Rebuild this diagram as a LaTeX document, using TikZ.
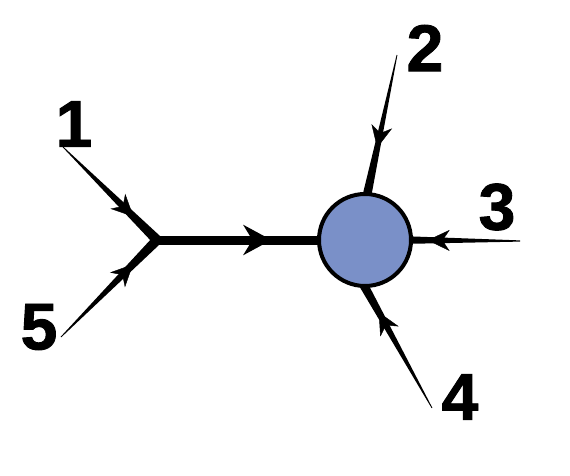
\documentclass[tikz,border=0pt]{standalone}
\usepackage{fontspec}
\setmainfont{Liberation Sans}
\newfontfamily\lblfont[FakeBold=1.4]{Liberation Sans Bold}
\usetikzlibrary{calc,arrows.meta,decorations.markings}
\definecolor{nodeblue}{RGB}{122,144,200}
\newcommand\tapline[4]{%
  \fill ($(#1)!#3!90:(#2)$) -- ($(#1)!#3!-90:(#2)$) -- ($(#2)!#4!90:(#1)$) -- ($(#2)!#4!-90:(#1)$) -- cycle;}
\tikzset{
  bigtip/.tip={Stealth[length=28pt,width=30pt,inset=9pt]},
  smalltip/.tip={Stealth[length=22pt,width=21pt,inset=7pt]}}
\begin{document}
\begin{tikzpicture}[x=1pt,y=-1pt,
  lbl/.style={font=\lblfont\fontsize{66}{66}\selectfont, inner sep=0pt},
  arrowat/.style 2 args={decoration={markings, mark=at position #1 with {\arrow{#2}}}, postaction={decorate}}]
\useasboundingbox (0,0) rectangle (570,476);
% coordinates
\coordinate (s1) at (63,147);
\coordinate (s5) at (61,337);
\coordinate (J) at (157,240);
\coordinate (s2) at (397,55);
\coordinate (e2) at (366,200);
\coordinate (s3) at (520,241);
\coordinate (e3) at (400,240);
\coordinate (s4) at (432,408);
\coordinate (e4) at (362,282);
\coordinate (cc) at (365,240);
% tapered inflows
\tapline{s1}{J}{0.4pt}{5pt}
\tapline{s5}{J}{0.4pt}{5pt}
\tapline{s2}{e2}{0.4pt}{4.5pt}
\tapline{s3}{e3}{0.6pt}{4pt}
\tapline{s4}{e4}{0.4pt}{4.5pt}
% arrowheads on inflows
\path[arrowat={0.75}{smalltip}] (s1) -- (J);
\path[arrowat={0.75}{smalltip}] (s5) -- (J);
\path[arrowat={0.64}{smalltip}] (s2) -- (e2);
\path[arrowat={0.77}{smalltip}] (s3) -- (e3);
\path[arrowat={0.76}{smalltip}] (s4) -- (e4);
% main line
\draw[line width=9pt, arrowat={0.55}{bigtip}] (J) -- (cc);
% node
\node[circle, draw, line width=4pt, fill=nodeblue, minimum size=92pt, inner sep=0pt] (C) at (cc) {};
% labels
\node[lbl] (l1) at (74,124) {1};
\node[lbl] (l2) at (425,48) {2};
\node[lbl] (l3) at (497,207) {3};
\node[lbl] (l4) at (460,397) {4};
\node[lbl] (l5) at (39,327) {5};
\end{tikzpicture}
\end{document}
